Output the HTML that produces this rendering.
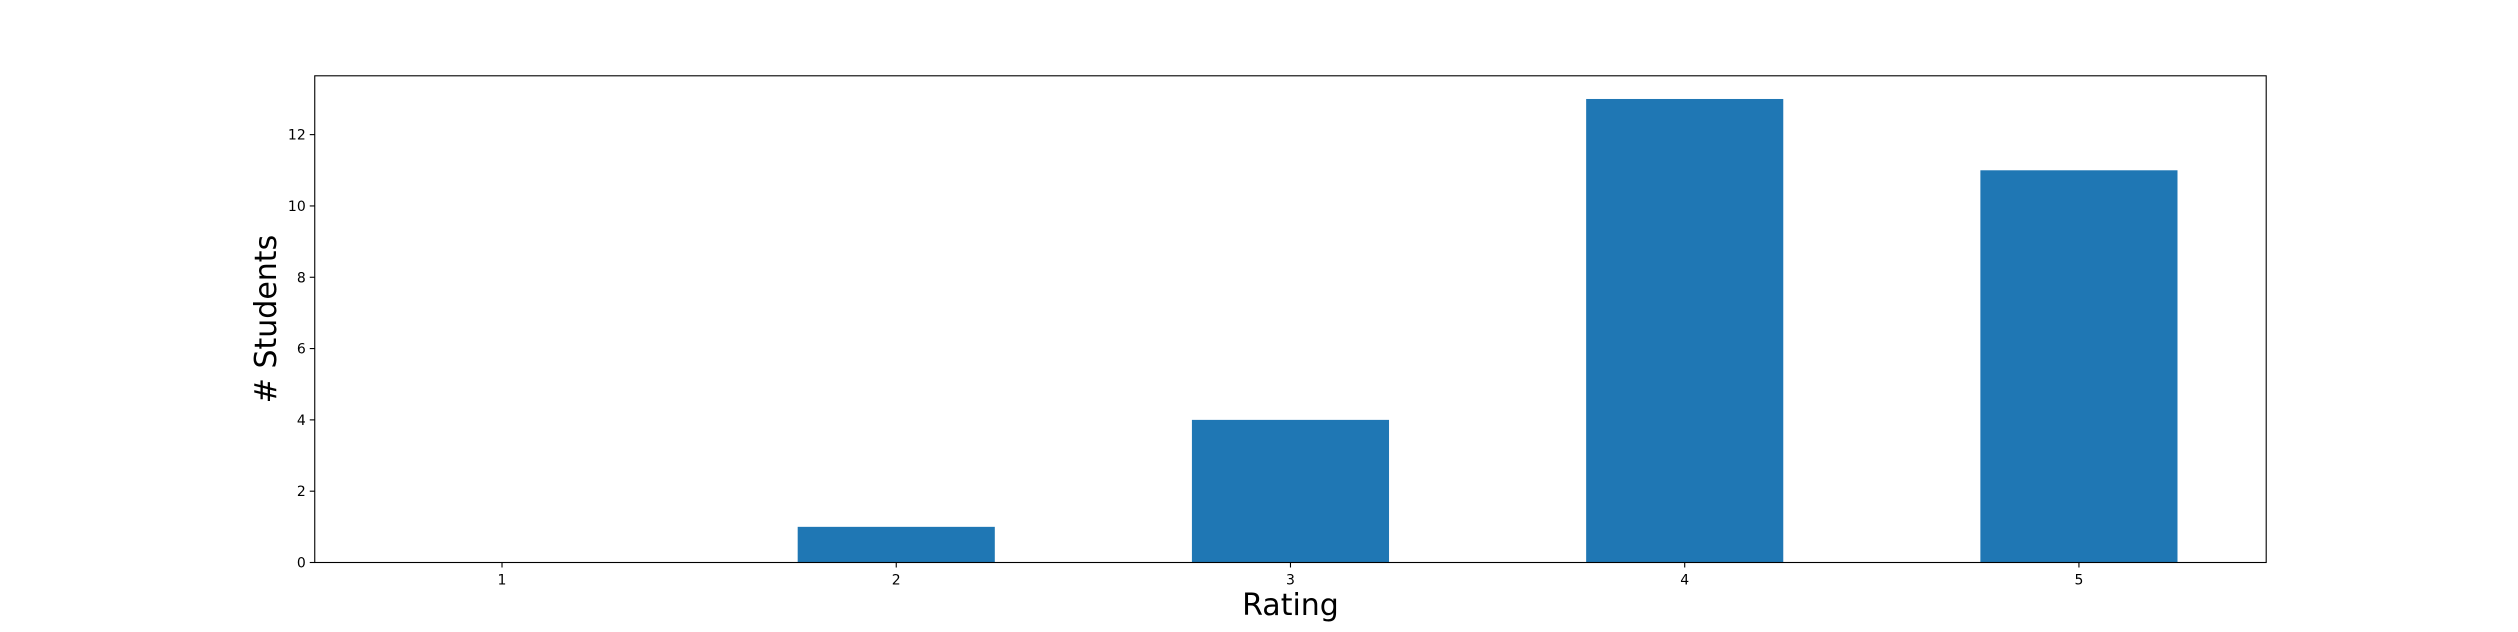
<!DOCTYPE html>
<html><head><meta charset="utf-8"><style>
html,body{margin:0;padding:0;background:#fff;}
svg{display:block;font-family:"DejaVu Sans","Liberation Sans",sans-serif;}
</style></head><body>
<svg id="chart" width="2518" height="632" viewBox="0 0 2518 632" xmlns="http://www.w3.org/2000/svg">
<g id="bars"></g>
<g id="xticks"></g>
<g id="yticks"></g>
<rect x="314.75" y="75.8" width="1951.45" height="486.7" fill="none" stroke="#000" stroke-width="1.1"/>
<text x="1290.5" y="615" font-size="30" text-anchor="middle">Rating</text>
<text x="0" y="0" font-size="30" text-anchor="middle" transform="translate(276,319) rotate(-90)">#  Students</text>
</svg>
<script>
const categories = [1, 2, 3, 4, 5];
const counts = [0, 1, 4, 13, 11];
const yTicks = [0, 2, 4, 6, 8, 10, 12];

const L = 314.75, R = 2266.2, T = 75.8, B = 562.5;
const barW = 0.5;
const xmin = categories[0] - barW/2 - 0.05*(categories[categories.length-1]-categories[0]+barW);
const xmax = categories[categories.length-1] + barW/2 + 0.05*(categories[categories.length-1]-categories[0]+barW);
const ymax = Math.max(...counts) * 1.05;
const xs = v => L + (v - xmin) / (xmax - xmin) * (R - L);
const ys = v => B - v / ymax * (B - T);
const NS = "http://www.w3.org/2000/svg";
const bars = document.getElementById('bars');
const xt = document.getElementById('xticks');
const yt = document.getElementById('yticks');

categories.forEach((c, i) => {
  const r = document.createElementNS(NS, 'rect');
  r.setAttribute('x', xs(c - barW/2));
  r.setAttribute('width', xs(c + barW/2) - xs(c - barW/2));
  r.setAttribute('y', ys(counts[i]));
  r.setAttribute('height', B - ys(counts[i]));
  r.setAttribute('fill', '#1f77b4');
  
  
  bars.appendChild(r);
  const l = document.createElementNS(NS, 'line');
  l.setAttribute('x1', xs(c)); l.setAttribute('x2', xs(c));
  l.setAttribute('y1', B); l.setAttribute('y2', B + 5);
  l.setAttribute('stroke', '#000'); l.setAttribute('stroke-width', '1.1');
  
  
  xt.appendChild(l);
  const t = document.createElementNS(NS, 'text');
  t.setAttribute('x', xs(c)); t.setAttribute('y', B + 22);
  t.setAttribute('font-size', '14'); t.setAttribute('text-anchor', 'middle');
  t.textContent = c;
  
  
  xt.appendChild(t);
});

yTicks.forEach(v => {
  const l = document.createElementNS(NS, 'line');
  l.setAttribute('x1', L - 5); l.setAttribute('x2', L);
  l.setAttribute('y1', ys(v)); l.setAttribute('y2', ys(v));
  l.setAttribute('stroke', '#000'); l.setAttribute('stroke-width', '1.1');
  
  
  yt.appendChild(l);
  const t = document.createElementNS(NS, 'text');
  t.setAttribute('x', L - 9); t.setAttribute('y', ys(v) + 5);
  t.setAttribute('font-size', '14'); t.setAttribute('text-anchor', 'end');
  t.textContent = v;
  
  
  yt.appendChild(t);
});
</script>
</body></html>
